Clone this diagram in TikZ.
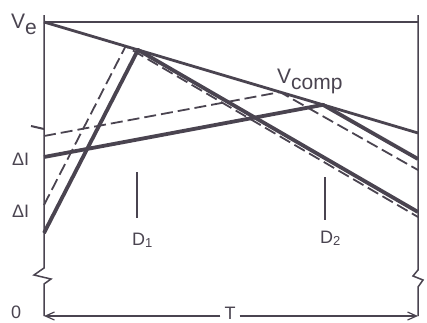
\documentclass[tikz,border=0pt]{standalone}
\usepackage{fontspec}
\setmainfont{Liberation Sans}
\usetikzlibrary{arrows.meta, positioning, calc}
\definecolor{inkGray}{HTML}{4A4450}
\newcommand{\lowtxt}[1]{\raisebox{-6pt}{#1}}
\newcommand{\smallsub}[1]{{\fontsize{13}{13}\selectfont\raisebox{-2pt}{#1}}}
\tikzset{
  lineThin/.style={draw=inkGray, line width=1.5pt},
  lineComp/.style={draw=inkGray, line width=2.8pt},
  lineThick/.style={draw=inkGray, line width=3.8pt, line join=round},
  lineDash/.style={draw=inkGray, line width=1.8pt, dash pattern=on 12pt off 5pt},
  arrowT/.style={-{Straight Barb[length=9pt, width=8pt]}, draw=inkGray, line width=1.2pt},
  labelA/.style={text=inkGray, font=\fontsize{18}{18}\selectfont, inner sep=0pt},
  labelV/.style={text=inkGray, font=\fontsize{21}{21}\selectfont, inner sep=0pt},
}

\begin{document}
\begin{tikzpicture}[x=1pt, y=-1pt]
    \useasboundingbox[fill=white] (0,0) rectangle (427,322);
    \coordinate (axTL) at (44,15);
    \coordinate (axBL) at (44,316);
    \coordinate (axTR) at (418,15);
    \coordinate (axBR) at (418,316);
    \coordinate (ve) at (44,22);
    \coordinate (topR) at (418,22);
    \coordinate (vcR) at (418,133);
    \coordinate (p1) at ($(ve)!0.2513!(vcR)$);
    \coordinate (q1) at ($(ve)!0.2182!(vcR)$);
    \coordinate (p2) at ($(ve)!0.7460!(vcR)$);
    \coordinate (q2) at ($(ve)!0.6313!(vcR)$);
    \coordinate (a0) at (44,233);
    \coordinate (b0) at (44,205);
    \coordinate (c0) at (44,157);
    \coordinate (d0) at (44,136);
    \coordinate (e1) at (418,212);
    \coordinate (f1) at (418,217);
    \coordinate (e2) at (418,159);
    \coordinate (f2) at (418,170);
    \coordinate (tickL) at (44,129);
    \coordinate (d1tick) at (137,172);
    \coordinate (d2tick) at (325,177);
    % axes
    \draw[lineThin] (axTL) -- (44,268) -- ++(-10,7) -- ++(17,4) -- ++(-7,5) -- (axBL);
    \draw[lineThin] (axTR) -- (418,270) -- ++(-5,6) -- ++(10,4) -- ++(-5,7) -- (axBR);
    \draw[lineThin] (ve) -- (topR);
    \draw[lineThin, line width=2pt] (tickL) -- ++(-13,-3);
    \draw[lineThin] (d1tick) -- ++(0,46);
    \draw[lineThin] (d2tick) -- ++(0,43);
    % ramps
    \draw[lineDash] (b0) -- (q1) -- (f1);
    \draw[lineDash] (d0) -- (q2) -- (f2);
    \draw[lineThick] (a0) -- (p1) -- (e1);
    \draw[lineThick] (c0) -- (p2) -- (e2);
    \draw[lineComp] (ve) -- (vcR);
    % labels
    \node[labelV, anchor=base west] (veLbl) at (11,28) {V\lowtxt{e}};
    \node[labelV, anchor=base west] (vcLbl) at (277,83) {V\lowtxt{comp}};
    \node[labelA, anchor=base west] (dIa) at (12,165) {ΔI};
    \node[labelA, anchor=base west] (dIb) at (12,217) {ΔI};
    \node[labelA, anchor=base west] (d1Lbl) at (132,245) {D\smallsub{1}};
    \node[labelA, anchor=base west] (d2Lbl) at (320,243) {D\smallsub{2}};
    \node[labelA, anchor=base west] (zeroLbl) at (11,318) {0};
    \node[labelA, inner sep=4pt] (tLbl) at (230,313) {T};
    \draw[arrowT] (tLbl.west |- axBL) -- (axBL);
    \draw[arrowT] (tLbl.east |- axBR) -- (axBR);
\end{tikzpicture}
\end{document}
